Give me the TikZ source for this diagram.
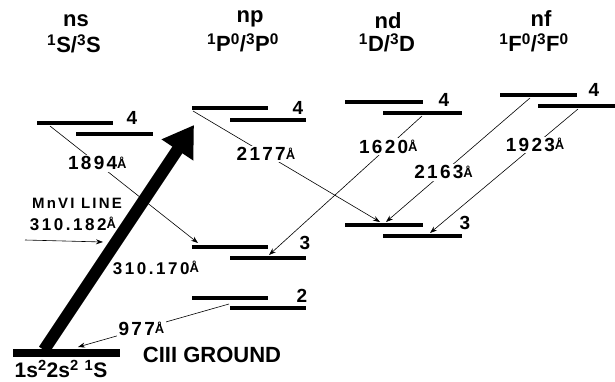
\documentclass[tikz,border=0pt]{standalone}
\usepackage{fontspec}
\setmainfont{Liberation Sans}
\newfontfamily\lblfont[LetterSpace=15]{Liberation Sans}
\newfontfamily\wlfont[LetterSpace=12]{Liberation Sans}
\usetikzlibrary{arrows.meta}
\newcommand\angs{\raisebox{1.5pt}{\fontsize{13}{13}\selectfont\AA}}
\begin{document}
\begin{tikzpicture}[x=1pt,y=-1pt,
  lvl/.style={fill=black,draw=none,rectangle,inner sep=0pt,minimum height=4.5pt},
  conn/.style={line width=0.6pt,-{Stealth[length=7pt,width=5pt]}},
  wl/.style={font={\wlfont\bfseries\fontsize{19}{19}\selectfont},fill=white,inner sep=1.5pt},
  hdr/.style={font={\bfseries\fontsize{22}{22}\selectfont},inner sep=0pt},
  num/.style={font={\bfseries\fontsize{19}{19}\selectfont},inner sep=0pt},
  txt/.style={font={\lblfont\bfseries\fontsize{15}{15}\selectfont},inner sep=0pt}
]
\useasboundingbox (0,0) rectangle (615,382);
% headers
\node[hdr] (hns) at (76,21) {ns};
\node[hdr] (hnsb) at (74,44) {\textsuperscript{1}S/\textsuperscript{3}S};
\node[hdr] (hnp) at (250,19) {np};
\node[hdr] (hnpb) at (243,43) {\textsuperscript{1}P\textsuperscript{0}/\textsuperscript{3}P\textsuperscript{0}};
\node[hdr] (hnd) at (388,21) {nd};
\node[hdr] (hndb) at (387,43) {\textsuperscript{1}D/\textsuperscript{3}D};
\node[hdr] (hnf) at (541,19) {nf};
\node[hdr] (hnfb) at (534,43) {\textsuperscript{1}F\textsuperscript{0}/\textsuperscript{3}F\textsuperscript{0}};
% levels
\node[lvl,minimum width=76pt] (ns4a) at (75,123) {};
\node[lvl,minimum width=77pt] (ns4b) at (114.5,134) {};
\node[lvl,minimum width=76pt] (np4a) at (230,108) {};
\node[lvl,minimum width=76pt] (np4b) at (268,120) {};
\node[lvl,minimum width=76pt] (np3a) at (230,247) {};
\node[lvl,minimum width=76pt] (np3b) at (268,258) {};
\node[lvl,minimum width=76pt] (np2a) at (230,298) {};
\node[lvl,minimum width=76pt] (np2b) at (268,308) {};
\node[lvl,minimum width=78pt] (nd4a) at (384,102) {};
\node[lvl,minimum width=79pt] (nd4b) at (422.5,113) {};
\node[lvl,minimum width=78pt] (nd3a) at (384,225) {};
\node[lvl,minimum width=79pt] (nd3b) at (422.5,236) {};
\node[lvl,minimum width=77pt] (nf4a) at (538.5,95) {};
\node[lvl,minimum width=77pt] (nf4b) at (576,106) {};
\node[lvl,minimum width=107pt,minimum height=8pt] (gnd) at (66.5,353) {};
% level numbers
\node[num] (n1) at (132,118) {4};
\node[num] (n2) at (298,108) {4};
\node[num] (n3) at (444,100) {4};
\node[num] (n4) at (594,90) {4};
\node[num] (n5) at (305,243) {3};
\node[num] (n6) at (465,223) {3};
\node[num] (n7) at (302,296) {2};
% connector ends
\coordinate (c1s) at (50,126);  \coordinate (c1e) at (198,243);
\coordinate (c2s) at (193,111); \coordinate (c2e) at (380,222);
\coordinate (c3s) at (422,116); \coordinate (c3e) at (269,255);
\coordinate (c4s) at (530,98);  \coordinate (c4e) at (386,222);
\coordinate (c5s) at (578,109); \coordinate (c5e) at (430,233);
\coordinate (c6s) at (229,304); \coordinate (c6e) at (78,347);
\coordinate (mns) at (25,240);  \coordinate (mne) at (103,242);
\coordinate (bigs) at (44,350); \coordinate (bige) at (194,125);
% transitions
\draw[conn] (c1s) -- node[wl,pos=0.32] (l1) {1894\angs} (c1e);
\draw[conn] (c2s) -- node[wl,pos=0.39] (l2) {2177\angs} (c2e);
\draw[conn] (c3s) -- node[wl,pos=0.22] (l3) {1620\angs} (c3e);
\draw[conn] (c4s) -- node[wl,pos=0.60] (l4) {2163\angs} (c4e);
\draw[conn] (c5s) -- node[wl,pos=0.29] (l5) {1923\angs} (c5e);
\draw[conn] (c6s) -- node[wl,pos=0.58] (l6) {977\angs} (c6e);
\draw[conn] (mns) -- (mne);
\node[txt] (mn1) at (77,203) {MnVI LINE};
\node[txt,font={\lblfont\bfseries\fontsize{17}{17}\selectfont}] (mn2) at (73,224) {310.182\angs};
\node[txt,font={\lblfont\bfseries\fontsize{17}{17}\selectfont}] (l7) at (156,268) {310.170\angs};
% big arrow
\draw[line width=12pt,-{Triangle[length=30pt,width=36pt]}] (bigs) -- (bige);
% ground labels
\node[inner sep=0pt,font={\bfseries\fontsize{22}{22}\selectfont}] (cg) at (212,355) {CIII GROUND};
\node[inner sep=0pt,font={\bfseries\fontsize{21}{21}\selectfont}] (gl) at (61,369) {1s\textsuperscript{2}2s\textsuperscript{2} \textsuperscript{1}S};
\end{tikzpicture}
\end{document}
